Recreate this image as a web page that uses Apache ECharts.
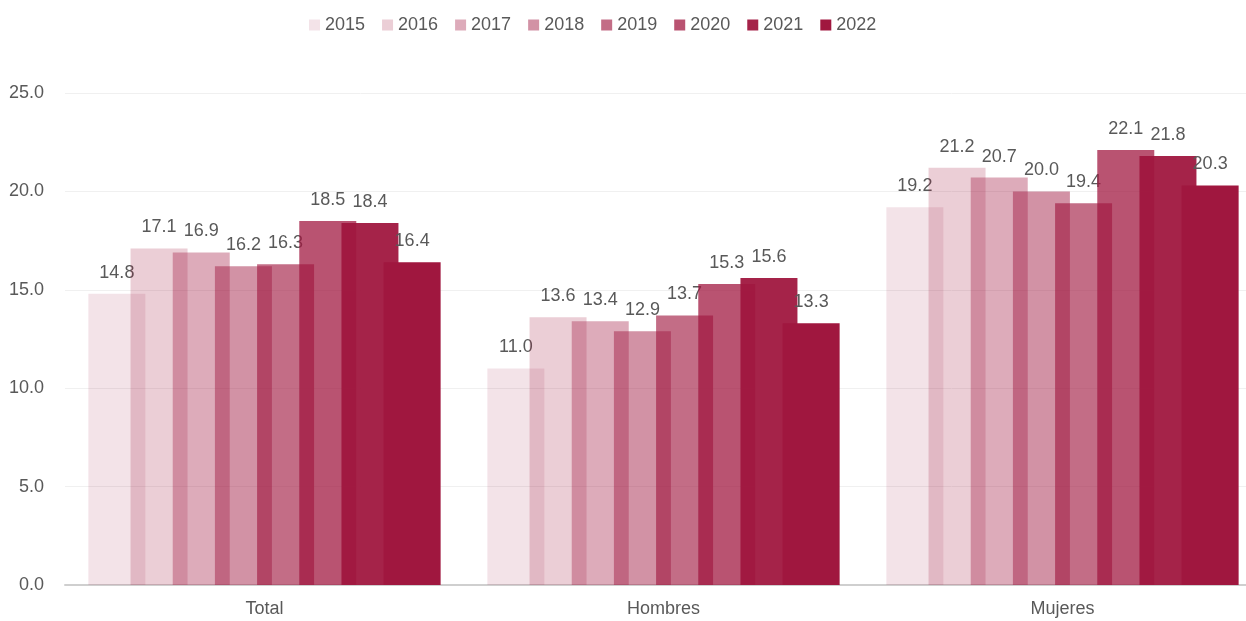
<!DOCTYPE html>
<html>
<head>
<meta charset="utf-8">
<script src="https://cdn.jsdelivr.net/npm/echarts@6/dist/echarts.min.js"></script>
<style>
html,body{margin:0;padding:0;background:#fff;}
#chart{width:1246px;height:621px;}
</style>
</head>
<body>
<div id="chart"></div>
<script>
var categories = ['Total', 'Hombres', 'Mujeres'];
var years = ['2015', '2016', '2017', '2018', '2019', '2020', '2021', '2022'];
var values = [
	[14.8, 11.0, 19.2],
	[17.1, 13.6, 21.2],
	[16.9, 13.4, 20.7],
	[16.2, 12.9, 20.0],
	[16.3, 13.7, 19.4],
	[18.5, 15.3, 22.1],
	[18.4, 15.6, 21.8],
	[16.4, 13.3, 20.3]
];
var yTicks = [0, 5, 10, 15, 20, 25];

// 同一个底色，不同透明度
var alphas = [0.12, 0.21, 0.36, 0.47, 0.63, 0.74, 0.95, 1];
var textColor = '#595959';
var fontFamily = '"Liberation Sans", Arial, sans-serif';

var myChart = echarts.init(document.getElementById('chart'));

var series = [];
for (var i = 0; i < years.length; i++) {
	series.push({
		name: years[i],
		type: 'bar',
		data: values[i],
		barWidth: 57,
		barGap: '-26%',
		z: 2 + i,
		itemStyle: {
			color: 'rgba(160, 23, 63, ' + alphas[i] + ')'
		},
		label: {
			show: true,
			position: 'top',
			distance: 12,
			color: textColor,
			fontSize: 18,
			fontFamily: fontFamily,
			formatter: function (p) {
				return p.value.toFixed(1);
			}
		}
	});
}

var option = {
	animation: false,
	legend: {
		top: 11,
		left: 304,
		itemWidth: 11,
		itemHeight: 11,
		itemGap: 17,
		icon: 'rect',
		textStyle: {
			color: textColor,
			fontSize: 18,
			fontFamily: fontFamily
		},
		data: years
	},
	// 右侧被截掉一截，所以宽度超出画布
	grid: {
		left: 65,
		width: 1197,
		top: 93,
		bottom: 36,
		outerBoundsMode: 'none'
	},
	xAxis: {
		type: 'category',
		data: categories,
		axisTick: {show: false},
		axisLine: {
			lineStyle: {color: '#cfcfcf', width: 2}
		},
		axisLabel: {
			color: textColor,
			fontSize: 18,
			fontFamily: fontFamily,
			margin: 15
		}
	},
	yAxis: {
		type: 'value',
		min: yTicks[0],
		max: yTicks[yTicks.length - 1],
		interval: 5,
		axisLine: {show: false},
		axisTick: {show: false},
		axisLabel: {
			color: textColor,
			fontSize: 18,
			fontFamily: fontFamily,
			margin: 21,
			formatter: function (v) {
				return v.toFixed(1);
			}
		},
		splitLine: {
			lineStyle: {color: '#f0f0f0'}
		}
	},
	series: series
};

myChart.setOption(option);
</script>
</body>
</html>
